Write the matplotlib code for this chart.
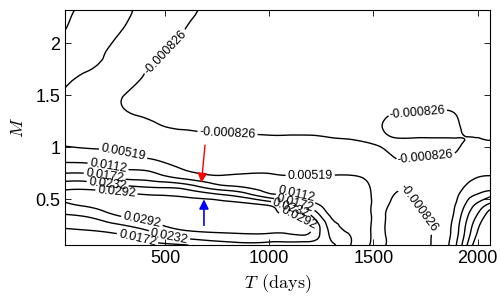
import numpy as np
import matplotlib.pyplot as plt
import matplotlib.tri as mtri

plt.rcParams['font.family'] = ['Liberation Sans', 'DejaVu Sans']
plt.rcParams['mathtext.fontset'] = 'cm'

# grid
T_days = [20, 150, 300, 450, 600, 800, 1000, 1100, 1200, 1300, 1400,
          1500, 1600, 1700, 1800, 1900, 1950, 2000, 2060]
M_vals = [0.06, 0.2, 0.35, 0.45, 0.53, 0.6, 0.7, 0.8, 0.9, 1.0, 1.08,
          1.2, 1.35, 1.5, 1.7, 1.9, 2.1, 2.32]

# one list per T column, values going up in M
field_cols = [
    [0.0125, 0.0165, 0.0229, 0.0278, 0.0315, 0.0285, 0.021, 0.014, 0.0092, 0.0055, 0.0035, 0.0018, 0.0006, -0.0005, -0.0013, -0.0014, -0.0009, -0.0004],
    [0.0125, 0.0172, 0.025, 0.031, 0.0325, 0.0285, 0.0205, 0.0135, 0.0085, 0.0048, 0.0032, 0.0018, 0.0009, 0.0002, -0.0006, -0.0013, -0.0015, -0.0014],
    [0.0135, 0.0195, 0.0305, 0.0335, 0.031, 0.0262, 0.0167, 0.0107, 0.0065, 0.004, 0.0025, 0.0008, -0.0007, -0.0008, -0.0004, -0.0003, -0.0007, -0.0012],
    [0.0155, 0.0245, 0.0335, 0.034, 0.0298, 0.0245, 0.0148, 0.0092, 0.0042, 0.0012, 0.0003, -0.0006, -0.0012, -0.0013, -0.0011, -0.0006, -0.0003, -0.0002],
    [0.017, 0.0292, 0.0345, 0.034, 0.0285, 0.0228, 0.0105, 0.0045, 0.0017, 0.0003, -0.0003, -0.001, -0.0015, -0.0016, -0.0015, -0.0012, -0.0009, -0.0005],
    [0.0205, 0.0305, 0.034, 0.031, 0.0245, 0.015, 0.0065, 0.0038, 0.0017, 0.0004, -0.0004, -0.0012, -0.0016, -0.0017, -0.0017, -0.0016, -0.0015, -0.0014],
    [0.0205, 0.0305, 0.032, 0.028, 0.0145, 0.0085, 0.0062, 0.0036, 0.0017, 0.0004, -0.0005, -0.0013, -0.0016, -0.0017, -0.0017, -0.0017, -0.0016, -0.0015],
    [0.0205, 0.031, 0.028, 0.020, 0.013, 0.0095, 0.006, 0.0035, 0.0017, 0.0004, -0.0005, -0.0013, -0.0016, -0.0017, -0.0017, -0.0017, -0.0016, -0.0016],
    [0.0195, 0.0295, 0.023, 0.0135, 0.0095, 0.0078, 0.0058, 0.0034, 0.0016, 0.0004, -0.0005, -0.0013, -0.0016, -0.0017, -0.0017, -0.0017, -0.0016, -0.0016],
    [0.0185, 0.015, 0.0098, 0.0086, 0.0080, 0.0075, 0.006, 0.0033, 0.0016, 0.0004, -0.0007, -0.0013, -0.0016, -0.0017, -0.0017, -0.0017, -0.0016, -0.0016],
    [0.0105, 0.0102, 0.0095, 0.009, 0.0085, 0.008, 0.006, 0.0033, 0.0013, 0.0002, -0.0009, -0.0013, -0.0015, -0.0016, -0.0017, -0.0017, -0.0016, -0.0016],
    [0.0038, 0.004, 0.0042, 0.0044, 0.0045, 0.0044, 0.0038, 0.0021, 0.0008, -0.0005, -0.0011, -0.0011, -0.0013, -0.0015, -0.0016, -0.0016, -0.0016, -0.0016],
    [-0.0028, -0.003, -0.0027, -0.0018, -0.001, -0.0002, 0.0005, 0.0, -0.0008, -0.0012, -0.0009, -0.0005, -0.0009, -0.0013, -0.0015, -0.0015, -0.0015, -0.0015],
    [-0.0025, -0.0025, -0.0018, -0.0011, -0.0006, 0.0, 0.0008, 0.0002, -0.001, -0.0013, -0.0009, -0.0004, -0.0009, -0.0013, -0.0015, -0.0015, -0.0015, -0.0015],
    [0.0, -0.0002, 0.0, 0.0003, 0.0006, 0.0008, 0.001, 0.0004, -0.0007, -0.0012, -0.0009, -0.0004, -0.0009, -0.0013, -0.0015, -0.0015, -0.0015, -0.0015],
    [0.0115, 0.0095, 0.0075, 0.0058, 0.0045, 0.0032, 0.0018, 0.0006, -0.0004, -0.001, -0.0009, -0.0006, -0.001, -0.0013, -0.0015, -0.0015, -0.0015, -0.0015],
    [0.0232, 0.0195, 0.0162, 0.0125, 0.0095, 0.0068, 0.0038, 0.0015, 0.0003, -0.0004, -0.0008, -0.0012, -0.0014, -0.0015, -0.0015, -0.0015, -0.0015, -0.0015],
    [0.034, 0.029, 0.0235, 0.0185, 0.0125, 0.009, 0.0055, 0.0025, 0.0008, -0.0003, -0.0008, -0.0012, -0.0014, -0.0015, -0.0015, -0.0015, -0.0015, -0.0015],
    [0.045, 0.040, 0.033, 0.0245, 0.0165, 0.01, 0.006, 0.003, 0.001, -0.0002, -0.0009, -0.0013, -0.0014, -0.0015, -0.0015, -0.0015, -0.0015, -0.0015],
]

levels = [-0.000826, 0.00519, 0.0112, 0.0172, 0.0232, 0.0292]

# where the contour labels sit (T, M)
label_pos = [
    (510, 1.9), (800, 1.1), (1712, 1.33), (1755, 0.86), (1735, 0.44),
    (293, 0.9), (1197, 0.73),
    (226, 0.81), (1135, 0.577),
    (212, 0.74), (1125, 0.47),
    (226, 0.67), (1100, 0.39),
    (269, 0.6), (1140, 0.29), (389, 0.29),
    (524, 0.18), (370, 0.14),
]

# arrows: (tail, head) in (T, M)
red_arrow = ((692, 1.02), (675, 0.66))
blue_arrow = ((687, 0.25), (687, 0.5))

T_arr = np.array(T_days, dtype=float)
M_arr = np.array(M_vals, dtype=float)
Z = np.array(field_cols).T  # shape (nM, nT)

# triangulate in roughly screen-scaled coords so the smoothing is isotropic
sx = 425.0 / (T_arr.max() - T_arr.min())
sy = 235.0 / (M_arr.max() - M_arr.min())
Tg, Mg = np.meshgrid(T_arr, M_arr)
tri_norm = mtri.Triangulation(Tg.ravel() * sx, Mg.ravel() * sy)
refiner = mtri.UniformTriRefiner(tri_norm)
tri_fine, z_fine = refiner.refine_field(Z.ravel(), subdiv=3)
tri_plot = mtri.Triangulation(tri_fine.x / sx, tri_fine.y / sy, tri_fine.triangles)

fig = plt.figure(figsize=(5, 3), dpi=100)
ax = fig.add_axes([0.13, 0.183, 0.85, 0.784])

cs = ax.tricontour(tri_plot, z_fine, levels=levels, colors='k',
                   linewidths=1.0, linestyles='solid')
ax.clabel(cs, fmt='%.3g', fontsize=9, manual=label_pos, inline=True,
          inline_spacing=2)

ax.annotate('', xy=red_arrow[1], xytext=red_arrow[0],
            arrowprops=dict(arrowstyle='-|>', color='red', lw=1,
                            mutation_scale=14, shrinkA=0, shrinkB=0))
ax.annotate('', xy=blue_arrow[1], xytext=blue_arrow[0],
            arrowprops=dict(arrowstyle='-|>', color='blue', lw=1.2,
                            mutation_scale=14, shrinkA=0, shrinkB=0))

ax.set_xlim(T_arr.min(), T_arr.max())
ax.set_ylim(M_arr.min(), M_arr.max())
ax.set_xticks([500, 1000, 1500, 2000])
ax.set_yticks([0.5, 1, 1.5, 2])
ax.set_yticklabels(['0.5', '1', '1.5', '2'])
ax.tick_params(direction='in', top=True, right=True, length=4, width=0.6,
               labelsize=13)
for sp in ax.spines.values():
    sp.set_linewidth(0.8)

ax.set_xlabel(r'$T\;\,\mathrm{(days)}$', fontsize=13, labelpad=4)
ax.set_ylabel(r'$M$', fontsize=13, labelpad=6)

fig.savefig('out.png', dpi=100)
